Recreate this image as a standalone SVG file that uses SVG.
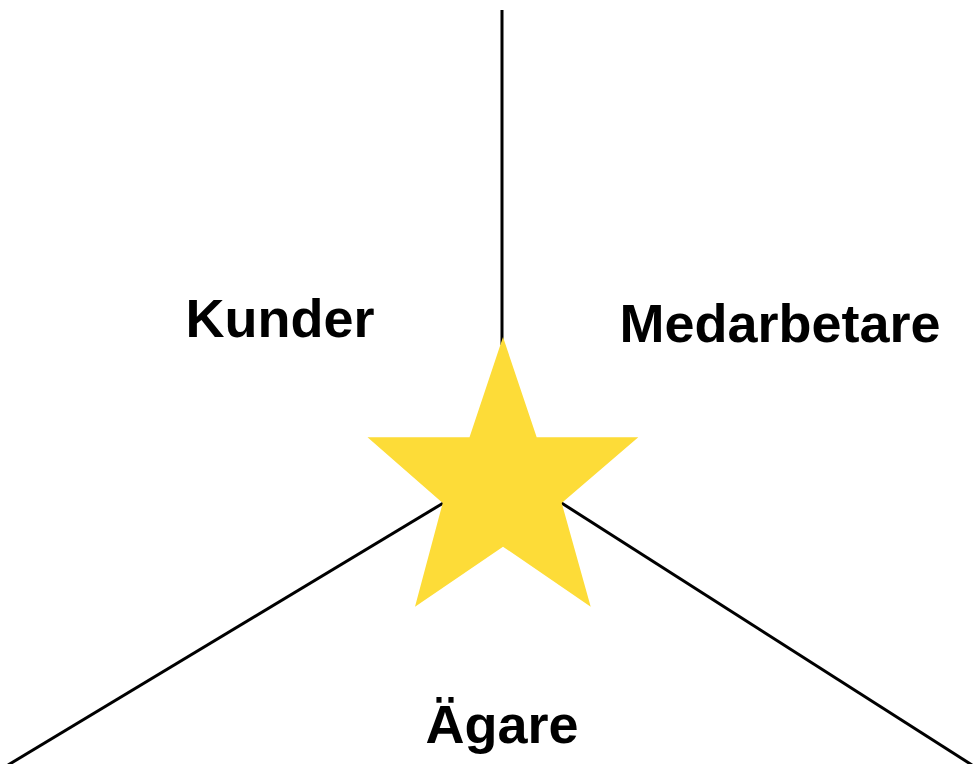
<svg xmlns="http://www.w3.org/2000/svg" width="975" height="764" viewBox="0 0 975 764">
<style>
.ln{stroke:#000;stroke-width:3;fill:none}
.lbl{font-family:"Liberation Sans",Arial,sans-serif;font-weight:bold;font-size:54px;fill:#000;text-anchor:middle}
</style>
<rect width="975" height="764" fill="#fff"/>
<g id="connectors">
<line class="ln" x1="502" y1="10" x2="502" y2="345"/>
<line class="ln" x1="445" y1="502" x2="8" y2="765"/>
<line class="ln" x1="560" y1="502" x2="972" y2="765"/>
</g>
<g id="star">
<polygon fill="#FDDC38" points="503,337 469.5,437.3 367.5,437.3 442.7,503 415,606.7 503,546.7 590.7,606.7 561.7,503 638.3,437.3 536.7,437.3"/>
</g>
<g id="kunder"><text class="lbl" x="280" y="337">Kunder</text></g>
<g id="medarbetare"><text class="lbl" x="780" y="342">Medarbetare</text></g>
<g id="agare"><text class="lbl" x="502" y="743">Ägare</text></g>
</svg>
